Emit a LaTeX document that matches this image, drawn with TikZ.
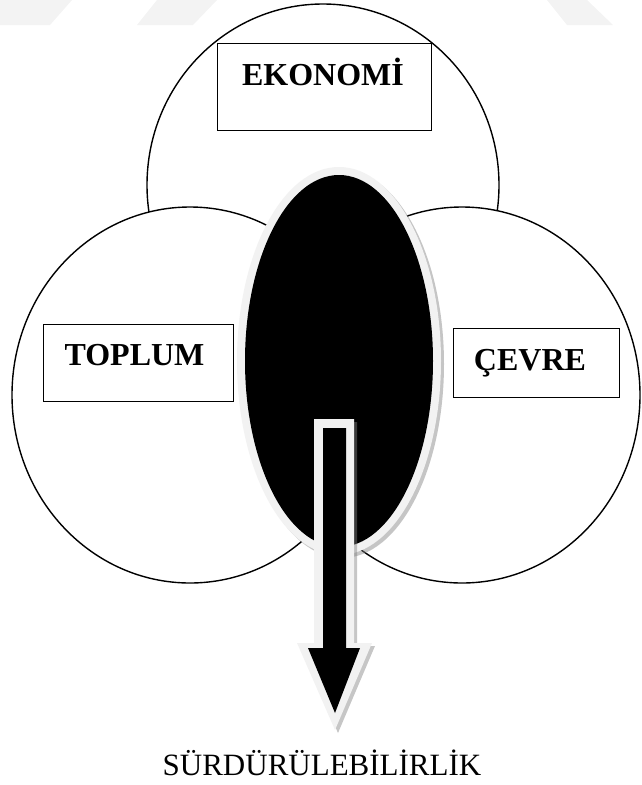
\documentclass[tikz,border=0pt]{standalone}
\usepackage{fontspec}
\setmainfont{Liberation Serif}
\definecolor{rim}{RGB}{242,242,242}
\definecolor{wm}{RGB}{243,243,243}
\begin{document}
\begin{tikzpicture}[x=1pt,y=-1pt,
  ring/.style={draw=black,line width=1.4pt,fill=white},
  lbox/.style={draw=black,line width=1.4pt,fill=white,rectangle,inner sep=0pt,anchor=north west},
  ltext/.style={font=\fontsize{32}{32}\selectfont\bfseries,anchor=base,inner sep=0pt},
  shade/.style={fill=gray,opacity=0.45}]
\useasboundingbox (0,0) rectangle (641,785);
% faint watermark
\fill[wm] (0,0) -- (72,0) -- (50,25) -- (0,25) -- cycle;
\fill[wm] (157,0) -- (217,0) -- (193,25) -- (137,25) -- cycle;
\fill[wm] (547,0) -- (587,0) -- (613,25) -- (567,25) -- cycle;
% circles
\draw[ring] (323,185) ellipse [x radius=176pt, y radius=181pt];
\draw[ring] (190,395) ellipse [x radius=178pt, y radius=188pt];
\draw[ring] (462,395) ellipse [x radius=178pt, y radius=188pt];
% black ellipse
\fill[shade] (342,364) ellipse [x radius=102pt, y radius=194pt];
\fill[rim] (339,361) ellipse [x radius=102pt, y radius=194pt];
\fill[black] (339,361) ellipse [x radius=94pt, y radius=186pt];
% arrow
\fill[shade,shift={(3,3)}] (314,419) -- (354,419) -- (354,643) -- (372,643) -- (335,730) -- (297,643) -- (314,643) -- cycle;
\fill[rim] (314,419) -- (354,419) -- (354,643) -- (372,643) -- (335,730) -- (297,643) -- (314,643) -- cycle;
\fill[black] (323,428) -- (346,428) -- (346,648) -- (360,648) -- (335,713) -- (308,648) -- (323,648) -- cycle;
% boxes
\node[lbox, minimum width=214pt, minimum height=87pt] (ekobox) at (217,43) {};
\node[ltext] (eko) at (323,85) {EKONOMİ};
\node[lbox, minimum width=190pt, minimum height=77pt] (topbox) at (43,324) {};
\node[ltext] (top) at (134.5,365) {TOPLUM};
\node[lbox, minimum width=166pt, minimum height=69pt] (cevbox) at (453,328) {};
\node[ltext] (cev) at (530,370) {ÇEVRE};
\node[font=\fontsize{31}{31}\selectfont, anchor=base, inner sep=0pt] (surd) at (322,775) {SÜRDÜRÜLEBİLİRLİK};
\end{tikzpicture}
\end{document}
